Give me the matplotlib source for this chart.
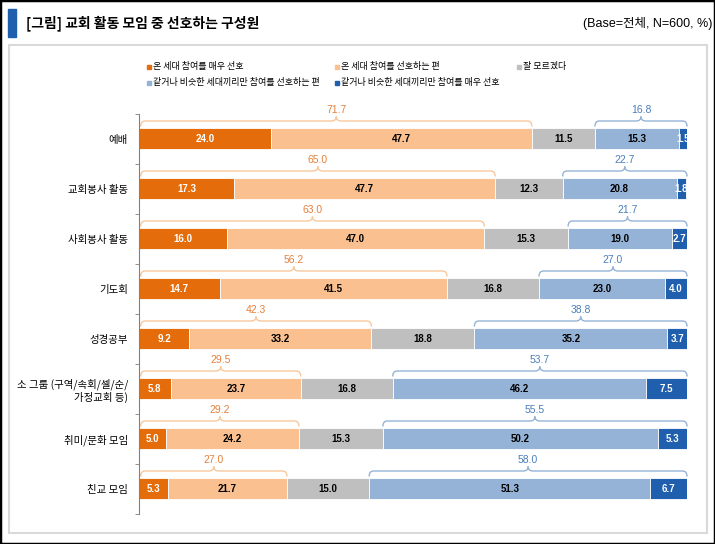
import numpy as np
import matplotlib
matplotlib.use('Agg')
import matplotlib.pyplot as plt
from matplotlib.patches import Rectangle, PathPatch
from matplotlib.path import Path

plt.rcParams['font.family'] = ['Noto Sans CJK KR', 'DejaVu Sans']

# data
categories = ['예배', '교회봉사 활동', '사회봉사 활동', '기도회', '성경공부',
              '소 그룹 (구역/속회/셀/순/\n가정교회 등)', '취미/문화 모임', '친교 모임']
very_all = [24.0, 17.3, 16.0, 14.7, 9.2, 5.8, 5.0, 5.3]
some_all = [47.7, 47.7, 47.0, 41.5, 33.2, 23.7, 24.2, 21.7]
dont_know = [11.5, 12.3, 15.3, 16.8, 18.8, 16.8, 15.3, 15.0]
some_same = [15.3, 20.8, 19.0, 23.0, 35.2, 46.2, 50.2, 51.3]
very_same = [1.5, 1.8, 2.7, 4.0, 3.7, 7.5, 5.3, 6.7]
all_sum = [71.7, 65.0, 63.0, 56.2, 42.3, 29.5, 29.2, 27.0]
same_sum = [16.8, 22.7, 21.7, 27.0, 38.8, 53.7, 55.5, 58.0]

series_names = ['온 세대 참여를 매우 선호', '온 세대 참여를 선호하는 편', '잘 모르겠다',
                '같거나 비슷한 세대끼리만 참여를 선호하는 편', '같거나 비슷한 세대끼리만 참여를 매우 선호']
colors = ['#E46C0A', '#FAC090', '#BFBFBF', '#95B3D7', '#1F5FAD']
text_colors = ['white', 'black', 'black', 'black', 'white']

num_font = ['Liberation Sans', 'Noto Sans CJK KR']

fig = plt.figure(figsize=(7.15, 5.44), dpi=100)
W, H = 715, 544

# frames
fig.patches.append(Rectangle((0, 0), 1, 1, transform=fig.transFigure,
                             fill=False, edgecolor='black', lw=2.5))
fig.patches.append(Rectangle((9 / W, 1 - 533 / H), 698 / W, 488 / H, transform=fig.transFigure,
                             fill=False, edgecolor='#D9D9D9', lw=1.5))
fig.patches.append(Rectangle((8 / W, 1 - 37 / H), 8 / W, 28 / H, transform=fig.transFigure,
                             color='#1F5FAD'))
fig.text(26 / W, 1 - 23 / H, '[그림] 교회 활동 모임 중 선호하는 구성원', fontsize=10,
         fontweight='bold', va='center', ha='left')
fig.text(712 / W, 1 - 23 / H, '(Base=전체, N=600, %)', fontsize=9, family=num_font,
         va='center', ha='right')

ax = fig.add_axes([139 / W, 1 - 513.5 / H, 548 / W, 400 / H])
y = np.arange(len(categories))
series = [very_all, some_all, dont_know, some_same, very_same]
left = np.zeros(len(categories))
bar_h = 0.42
starts = []
for vals, col, tc in zip(series, colors, text_colors):
    vals = np.array(vals)
    ax.barh(y, vals, left=left, height=bar_h, color=col, edgecolor='white', lw=0.6)
    starts.append(left.copy())
    for yi, (l, v) in enumerate(zip(left, vals)):
        ax.text(l + v / 2, yi, f'{v:.1f}', ha='center', va='center', fontsize=7,
                fontweight='bold', color=tc, family=num_font, clip_on=True)
    left = left + vals

ax.set_xlim(0, 100)
ax.set_ylim(len(categories) - 0.5, -0.5)


def bracket(x0, x1, yc, col):
    yend = yc - 0.24
    yline = yc - 0.35
    ypeak = yc - 0.44
    r = 0.8
    p = 0.9
    xm = (x0 + x1) / 2
    verts = [(x0, yend), (x0, yline), (x0 + r, yline), (xm - p, yline),
             (xm, yline), (xm, ypeak), (xm, yline), (xm + p, yline),
             (x1 - r, yline), (x1, yline), (x1, yend)]
    codes = [Path.MOVETO, Path.CURVE3, Path.CURVE3, Path.LINETO,
             Path.CURVE3, Path.CURVE3, Path.CURVE3, Path.CURVE3,
             Path.LINETO, Path.CURVE3, Path.CURVE3]
    ax.add_patch(PathPatch(Path(verts, codes), fill=False, edgecolor=col, lw=1.0,
                           clip_on=False))
    return xm


for yi in range(len(categories)):
    x_end = starts[2][yi]
    xm = bracket(0.3, x_end, yi, '#F9C79C')
    ax.text(xm, yi - 0.57, f'{all_sum[yi]:.1f}', ha='center', va='center', fontsize=7.5,
            color='#E5803A', family=num_font)
    x_start = starts[3][yi]
    xm = bracket(x_start, 100, yi, '#95B3D7')
    ax.text(xm, yi - 0.57, f'{same_sum[yi]:.1f}', ha='center', va='center', fontsize=7.5,
            color='#4A7EBB', family=num_font)

for s in ['top', 'right', 'bottom']:
    ax.spines[s].set_visible(False)
ax.spines['left'].set_color('#808080')
ax.set_xticks([])
ax.set_yticks(y)
ax.set_yticklabels(categories, fontsize=7.5, ha='right', linespacing=1.2)
ax.tick_params(axis='y', which='major', length=0, pad=8)
ax.set_yticks(np.arange(-0.5, len(categories) + 0.5, 1), minor=True)
ax.tick_params(axis='y', which='minor', length=3, color='#808080')

# legend
leg_pos = [(147, 67), (335, 67), (517, 67), (147, 83), (335, 83)]
for (lx, ly), name, col in zip(leg_pos, series_names, colors):
    fig.patches.append(Rectangle((lx / W, 1 - (ly + 2) / H), 4 / W, 4 / H,
                                 transform=fig.transFigure, color=col))
    fig.text((lx + 6) / W, 1 - ly / H, name, fontsize=6.5, va='center', ha='left')

fig.savefig('out.png', dpi=100)
